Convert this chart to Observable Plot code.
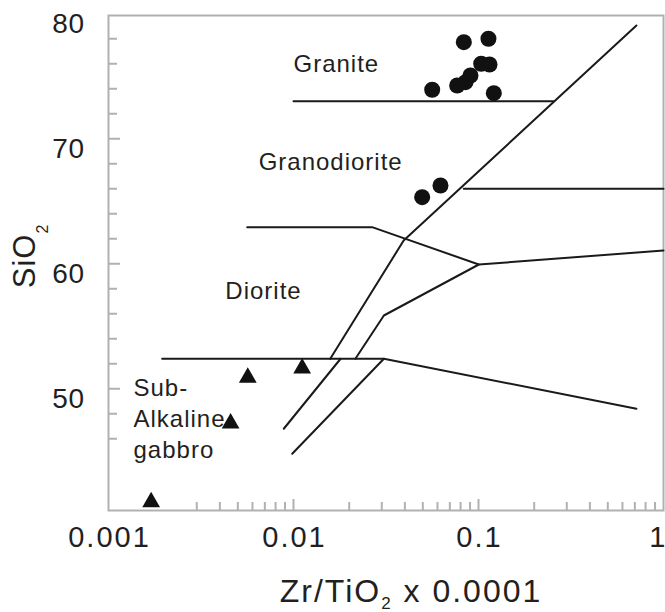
<!DOCTYPE html>
<html>
<head>
<meta charset="utf-8">
<script src="https://cdn.jsdelivr.net/npm/d3@7"></script>
<script src="https://cdn.jsdelivr.net/npm/@observablehq/plot@0.6"></script>
<style>
  html, body { margin: 0; padding: 0; background: #fff; }
  #chart svg { display: block; }
</style>
</head>
<body>
<div id="chart"></div>
<script>
// ---- data ----
// Zr/TiO2 x 0.0001 (x) and SiO2 (y) of granitic samples (filled circles)
const circleX = [0.0833, 0.1132, 0.1034, 0.1147, 0.0905, 0.0851, 0.0767, 0.0562, 0.121, 0.0496, 0.0623];
const circleY = [77.73, 78.0, 76.0, 75.94, 75.06, 74.53, 74.26, 73.92, 73.65, 65.33, 66.26];
// gabbroic samples (filled triangles)
const triangleX = [0.0017, 0.00566, 0.01114, 0.00457];
const triangleY = [40.94, 50.9, 51.64, 47.24];

// field boundaries [x, y]
const lineGraniteBase   = [[0.01, 73.0], [0.254, 73.0]];
const lineMainDiagonal  = [[0.714, 79.06], [0.0394, 61.86], [0.0158, 52.4]];
const lineGranodioriteR = [[0.0832, 66.0], [1, 66.0]];
const lineDioriteTop    = [[0.00562, 62.93], [0.0266, 62.93], [0.1004, 59.94], [1, 61.06]];
const lineInnerDiagonal = [[0.1004, 59.94], [0.0308, 55.86], [0.0216, 52.4]];
const lineGabbroTop     = [[0.00195, 52.4], [0.0308, 52.4], [0.714, 48.4]];
const lineLowerLeft     = [[0.01797, 52.4], [0.00886, 46.8]];
const lineLowerRight    = [[0.0308, 52.4], [0.00984, 44.8]];

// field names
const fieldNames = ["Granite", "Granodiorite", "Diorite", "Sub-\nAlkaline\ngabbro"];
const fieldX = [0.01, 0.00648, 0.00428, 0.001365];
const fieldY = [76.1, 68.26, 57.94, 47.75];

// axis ticks
const xTickLabels = [0.001, 0.01, 0.1];
const xTickText = ["0.001", "0.01", "0.1"];
const xEndLabel = [1];
const xMajorTicks = [0.01, 0.1];
const xMinorTicks = [0.003, 0.004, 0.005, 0.006, 0.007, 0.008, 0.009,
                     0.02, 0.03, 0.04, 0.05, 0.06, 0.07, 0.08, 0.09,
                     0.2, 0.3, 0.4, 0.5, 0.6, 0.7, 0.8, 0.9];
const yTickLabels = [50, 60, 70, 80];
const yMajorTicks = [50, 60, 70];
const yMinorTicks = [46, 48, 52, 54, 56, 58, 62, 64, 66, 68, 72, 74, 76, 78];

// ---- build tables ----
const circles = circleX.map((x, i) => ({x, y: circleY[i]}));
const triangles = triangleX.map((x, i) => ({x, y: triangleY[i]}));
const boundaries = [lineGraniteBase, lineMainDiagonal, lineGranodioriteR, lineDioriteTop,
  lineInnerDiagonal, lineGabbroTop, lineLowerLeft, lineLowerRight]
  .flatMap((pts, k) => pts.map(([x, y]) => ({x, y, k})));
const fields = fieldNames.map((t, i) => ({t, x: fieldX[i], y: fieldY[i]}));
const xLabels = xTickLabels.map((x, i) => ({x, t: xTickText[i]}));

const W = 665, H = 612;
const mL = 108, mR = 2, mT = 15, mB = 102;
const innerW = W - mL - mR, innerH = H - mT - mB;
const gray = "#b1b1b3";
const ink = "#231f20";
const font = "'Liberation Sans', Arial, Helvetica, sans-serif";

const chart = Plot.plot({
  width: W,
  height: H,
  marginLeft: mL, marginRight: mR, marginTop: mT, marginBottom: mB,
  style: {fontFamily: font, background: "#fff", color: ink},
  x: {type: "log", domain: [0.001, 1], axis: null},
  y: {domain: [40.26, 79.86], axis: null},
  marks: [
    Plot.frame({stroke: gray, strokeWidth: 2}),
    Plot.tickY(yMinorTicks, {y: d => d, stroke: gray, strokeWidth: 2, insetRight: innerW - 9}),
    Plot.tickY(yMajorTicks, {y: d => d, stroke: gray, strokeWidth: 2, insetRight: innerW - 12}),
    Plot.tickX(xMinorTicks, {x: d => d, stroke: gray, strokeWidth: 2, insetTop: innerH - 8}),
    Plot.tickX(xMajorTicks, {x: d => d, stroke: gray, strokeWidth: 2, insetTop: innerH - 11}),
    Plot.text(yTickLabels, {y: d => d, text: d => String(d), frameAnchor: "left", textAnchor: "end",
      dx: -24, dy: 10, fontSize: 28, fill: ink}),
    Plot.text(xLabels, {x: "x", text: "t", frameAnchor: "bottom", dy: 36, dx: 1, fontSize: 29, fill: ink}),
    Plot.text(xEndLabel, {x: d => d, text: d => String(d), frameAnchor: "bottom", textAnchor: "end",
      dy: 36, dx: 2, fontSize: 29, fill: ink}),
    Plot.line(boundaries, {x: "x", y: "y", z: "k", stroke: "#1a1a1a", strokeWidth: 2}),
    Plot.dot(circles, {x: "x", y: "y", r: 8, fill: "#111", stroke: null}),
    Plot.dot(triangles, {x: "x", y: "y", r: 6.6, symbol: "triangle", fill: "#111", stroke: null}),
    Plot.text(fields, {x: "x", y: "y", text: "t", textAnchor: "start", fontSize: 24, lineHeight: 1.3,
      fill: ink})
  ]
});

const svg = d3.select(chart);
// slightly wider tracking, as in the reference
const textGroups = svg.selectAll("g[aria-label='text']");
textGroups.attr("letter-spacing", 1);
textGroups.filter((d, i) => i === 0).attr("letter-spacing", 0.5);
textGroups.filter((d, i) => i === 1).attr("letter-spacing", 2);
textGroups.filter((d, i) => i === 2).attr("letter-spacing", 0);

// axis titles with subscripts
const xt = svg.append("text")
  .attr("x", 411).attr("y", 602)
  .attr("text-anchor", "middle")
  .attr("letter-spacing", 2)
  .attr("font-size", 32).attr("fill", ink).attr("font-family", font);
xt.append("tspan").text("Zr/TiO");
xt.append("tspan").attr("font-size", 17).attr("dy", 7).text("2");
xt.append("tspan").attr("dy", -7).text(" x 0.0001");

const yt = svg.append("text")
  .attr("transform", "translate(35,256) rotate(-90)")
  .attr("text-anchor", "middle")
  .attr("letter-spacing", 1)
  .attr("font-size", 31).attr("fill", ink).attr("font-family", font);
yt.append("tspan").text("SiO");
yt.append("tspan").attr("font-size", 16).attr("dy", 13).text("2");

document.getElementById("chart").appendChild(chart);
</script>
</body>
</html>
